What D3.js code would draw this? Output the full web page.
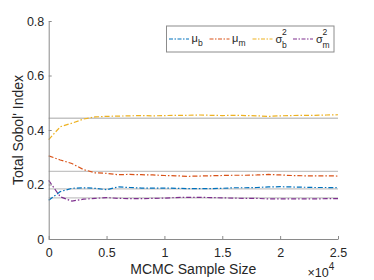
<!DOCTYPE html>
<html>
<head>
<meta charset="utf-8">
<script src="https://cdn.jsdelivr.net/npm/d3@7"></script>
<style>
  body { margin: 0; background: #fff; }
  text { font-family: "Liberation Sans", Arial, sans-serif; fill: #262626; }
</style>
</head>
<body>
<div id="chart"></div>
<script>
// sample sizes (MCMC) and total Sobol' indices for each parameter
const samples = [0, 1000, 2000, 3000, 4000, 5000, 6000, 7000, 8000, 9000, 10000, 11000, 12000,
  13000, 14000, 15000, 16000, 17000, 18000, 19000, 20000, 21000, 22000, 23000, 24000, 25000];

const muB = [0.142, 0.174, 0.186, 0.188, 0.186, 0.181, 0.191, 0.189, 0.187, 0.187, 0.187, 0.186, 0.185,
  0.185, 0.185, 0.186, 0.188, 0.188, 0.189, 0.191, 0.192, 0.191, 0.190, 0.189, 0.189, 0.188];
const muM = [0.305, 0.290, 0.277, 0.255, 0.243, 0.241, 0.236, 0.237, 0.236, 0.235, 0.233, 0.232, 0.230,
  0.231, 0.232, 0.233, 0.234, 0.234, 0.235, 0.237, 0.235, 0.233, 0.232, 0.232, 0.232, 0.231];
const sigB = [0.365, 0.412, 0.425, 0.440, 0.448, 0.450, 0.451, 0.452, 0.453, 0.452, 0.453, 0.454, 0.454,
  0.455, 0.454, 0.453, 0.454, 0.453, 0.452, 0.450, 0.452, 0.453, 0.454, 0.454, 0.455, 0.456];
const sigM = [0.215, 0.155, 0.139, 0.146, 0.149, 0.152, 0.149, 0.148, 0.148, 0.149, 0.150, 0.152, 0.153,
  0.153, 0.152, 0.151, 0.150, 0.149, 0.149, 0.147, 0.147, 0.147, 0.147, 0.147, 0.148, 0.148];

// reference (true) values drawn as gray lines
const refValues = [0.443, 0.248, 0.184, 0.151];

const xTicks = [0, 5000, 10000, 15000, 20000, 25000];
const yTicks = [0, 0.2, 0.4, 0.6, 0.8];

const w = 374;
const h = 280;

const series = [
  { sym: "\u03bc", sub: "b", sup: null, values: muB, color: "#0072BD" },
  { sym: "\u03bc", sub: "m", sup: null, values: muM, color: "#D95319" },
  { sym: "\u03c3", sub: "b", sup: "2", values: sigB, color: "#EDB120" },
  { sym: "\u03c3", sub: "m", sup: "2", values: sigM, color: "#7E2F8E" }
];

const xScale = d3.scaleLinear().domain([0, 25000]).range([48.7, 338]);
const yScale = d3.scaleLinear().domain([0, 0.8]).range([239, 21]);

const svg = d3.select("#chart")
  .append("svg")
  .attr("width", w)
  .attr("height", h);

// gray reference lines
svg.selectAll("line.ref")
  .data(refValues)
  .enter()
  .append("line")
    .attr("class", "ref")
    .attr("x1", xScale(0))
    .attr("x2", xScale(25000))
    .attr("y1", d => yScale(d))
    .attr("y2", d => yScale(d))
    .attr("stroke", "#c4c4c4")
    .attr("stroke-width", 1.4);

const line = d3.line()
  .x((d, i) => xScale(samples[i]))
  .y(d => yScale(d));

svg.selectAll("path.series")
  .data(series)
  .enter()
  .append("path")
    .attr("class", "series")
    .attr("d", d => line(d.values))
    .attr("fill", "none")
    .attr("stroke", d => d.color)
    .attr("stroke-width", 1.2)
    .attr("stroke-dasharray", "5,2,1.5,2");

// axes, ticks pointing inward
const xAxis = d3.axisBottom(xScale)
  .tickValues(xTicks)
  .tickSizeInner(-3)
  .tickSizeOuter(0)
  .tickPadding(8.8)
  .tickFormat(d => d / 10000);

const yAxis = d3.axisLeft(yScale)
  .tickValues(yTicks)
  .tickSizeInner(-3)
  .tickSizeOuter(0)
  .tickPadding(4.4)
  .tickFormat(d => d === 0 ? "0" : d.toFixed(1));

const gx = svg.append("g")
  .attr("transform", `translate(0, ${yScale(0)})`)
  .call(xAxis);

const gy = svg.append("g")
  .attr("transform", `translate(${xScale(0)}, 0)`)
  .call(yAxis);

[gx, gy].forEach(g => {
  g.select(".domain").attr("stroke", "#8a8a8a");
  g.selectAll(".tick line").attr("stroke", "#8a8a8a");
  g.selectAll(".tick text")
    .attr("fill", "#262626")
    .style("font-size", "12.5px")
    .style("font-family", "'Liberation Sans', Arial, sans-serif");
});

// axis labels
svg.append("text")
  .attr("x", (xScale(0) + xScale(25000)) / 2)
  .attr("y", 273.5)
  .attr("text-anchor", "middle")
  .style("font-size", "14px")
  .text("MCMC Sample Size");

svg.append("text")
  .attr("transform", `translate(23, ${(yScale(0) + yScale(0.8)) / 2}) rotate(-90)`)
  .attr("text-anchor", "middle")
  .style("font-size", "14px")
  .text("Total Sobol' Index");

// x10^4 exponent
const expo = svg.append("text")
  .attr("x", 307.5)
  .attr("y", 276.7)
  .style("font-size", "12.5px");
expo.append("tspan").text("\u00d710");
expo.append("tspan")
  .attr("dy", -7)
  .style("font-size", "10px")
  .text("4");

// legend
const legend = svg.append("g");
legend.append("rect")
  .attr("x", 166.5)
  .attr("y", 26)
  .attr("width", 167.5)
  .attr("height", 26)
  .attr("fill", "#fff")
  .attr("stroke", "#8c8c8c")
  .attr("stroke-width", 1);

const legendX = [169, 209.5, 252.5, 293];
const item = legend.selectAll("g.item")
  .data(series)
  .enter()
  .append("g")
    .attr("class", "item")
    .attr("transform", (d, i) => `translate(${legendX[i]}, 0)`);

item.append("line")
  .attr("x1", 0)
  .attr("x2", 20)
  .attr("y1", 39)
  .attr("y2", 39)
  .attr("stroke", d => d.color)
  .attr("stroke-width", 1.2)
  .attr("stroke-dasharray", "4,1.5,1.5,1.5");

item.append("text")
  .attr("x", d => d.sup ? 23 : 22.5)
  .attr("y", d => d.sup ? 42.5 : 41.5)
  .style("font-size", "11px")
  .text(d => d.sym);

item.filter(d => d.sup)
  .append("text")
  .attr("x", 29.5)
  .attr("y", 35)
  .style("font-size", "8.5px")
  .text(d => d.sup);

item.append("text")
  .attr("x", d => d.sup ? 29.5 : 29)
  .attr("y", d => d.sup ? 47.5 : 46)
  .style("font-size", "8.5px")
  .text(d => d.sub);
</script>
</body>
</html>
